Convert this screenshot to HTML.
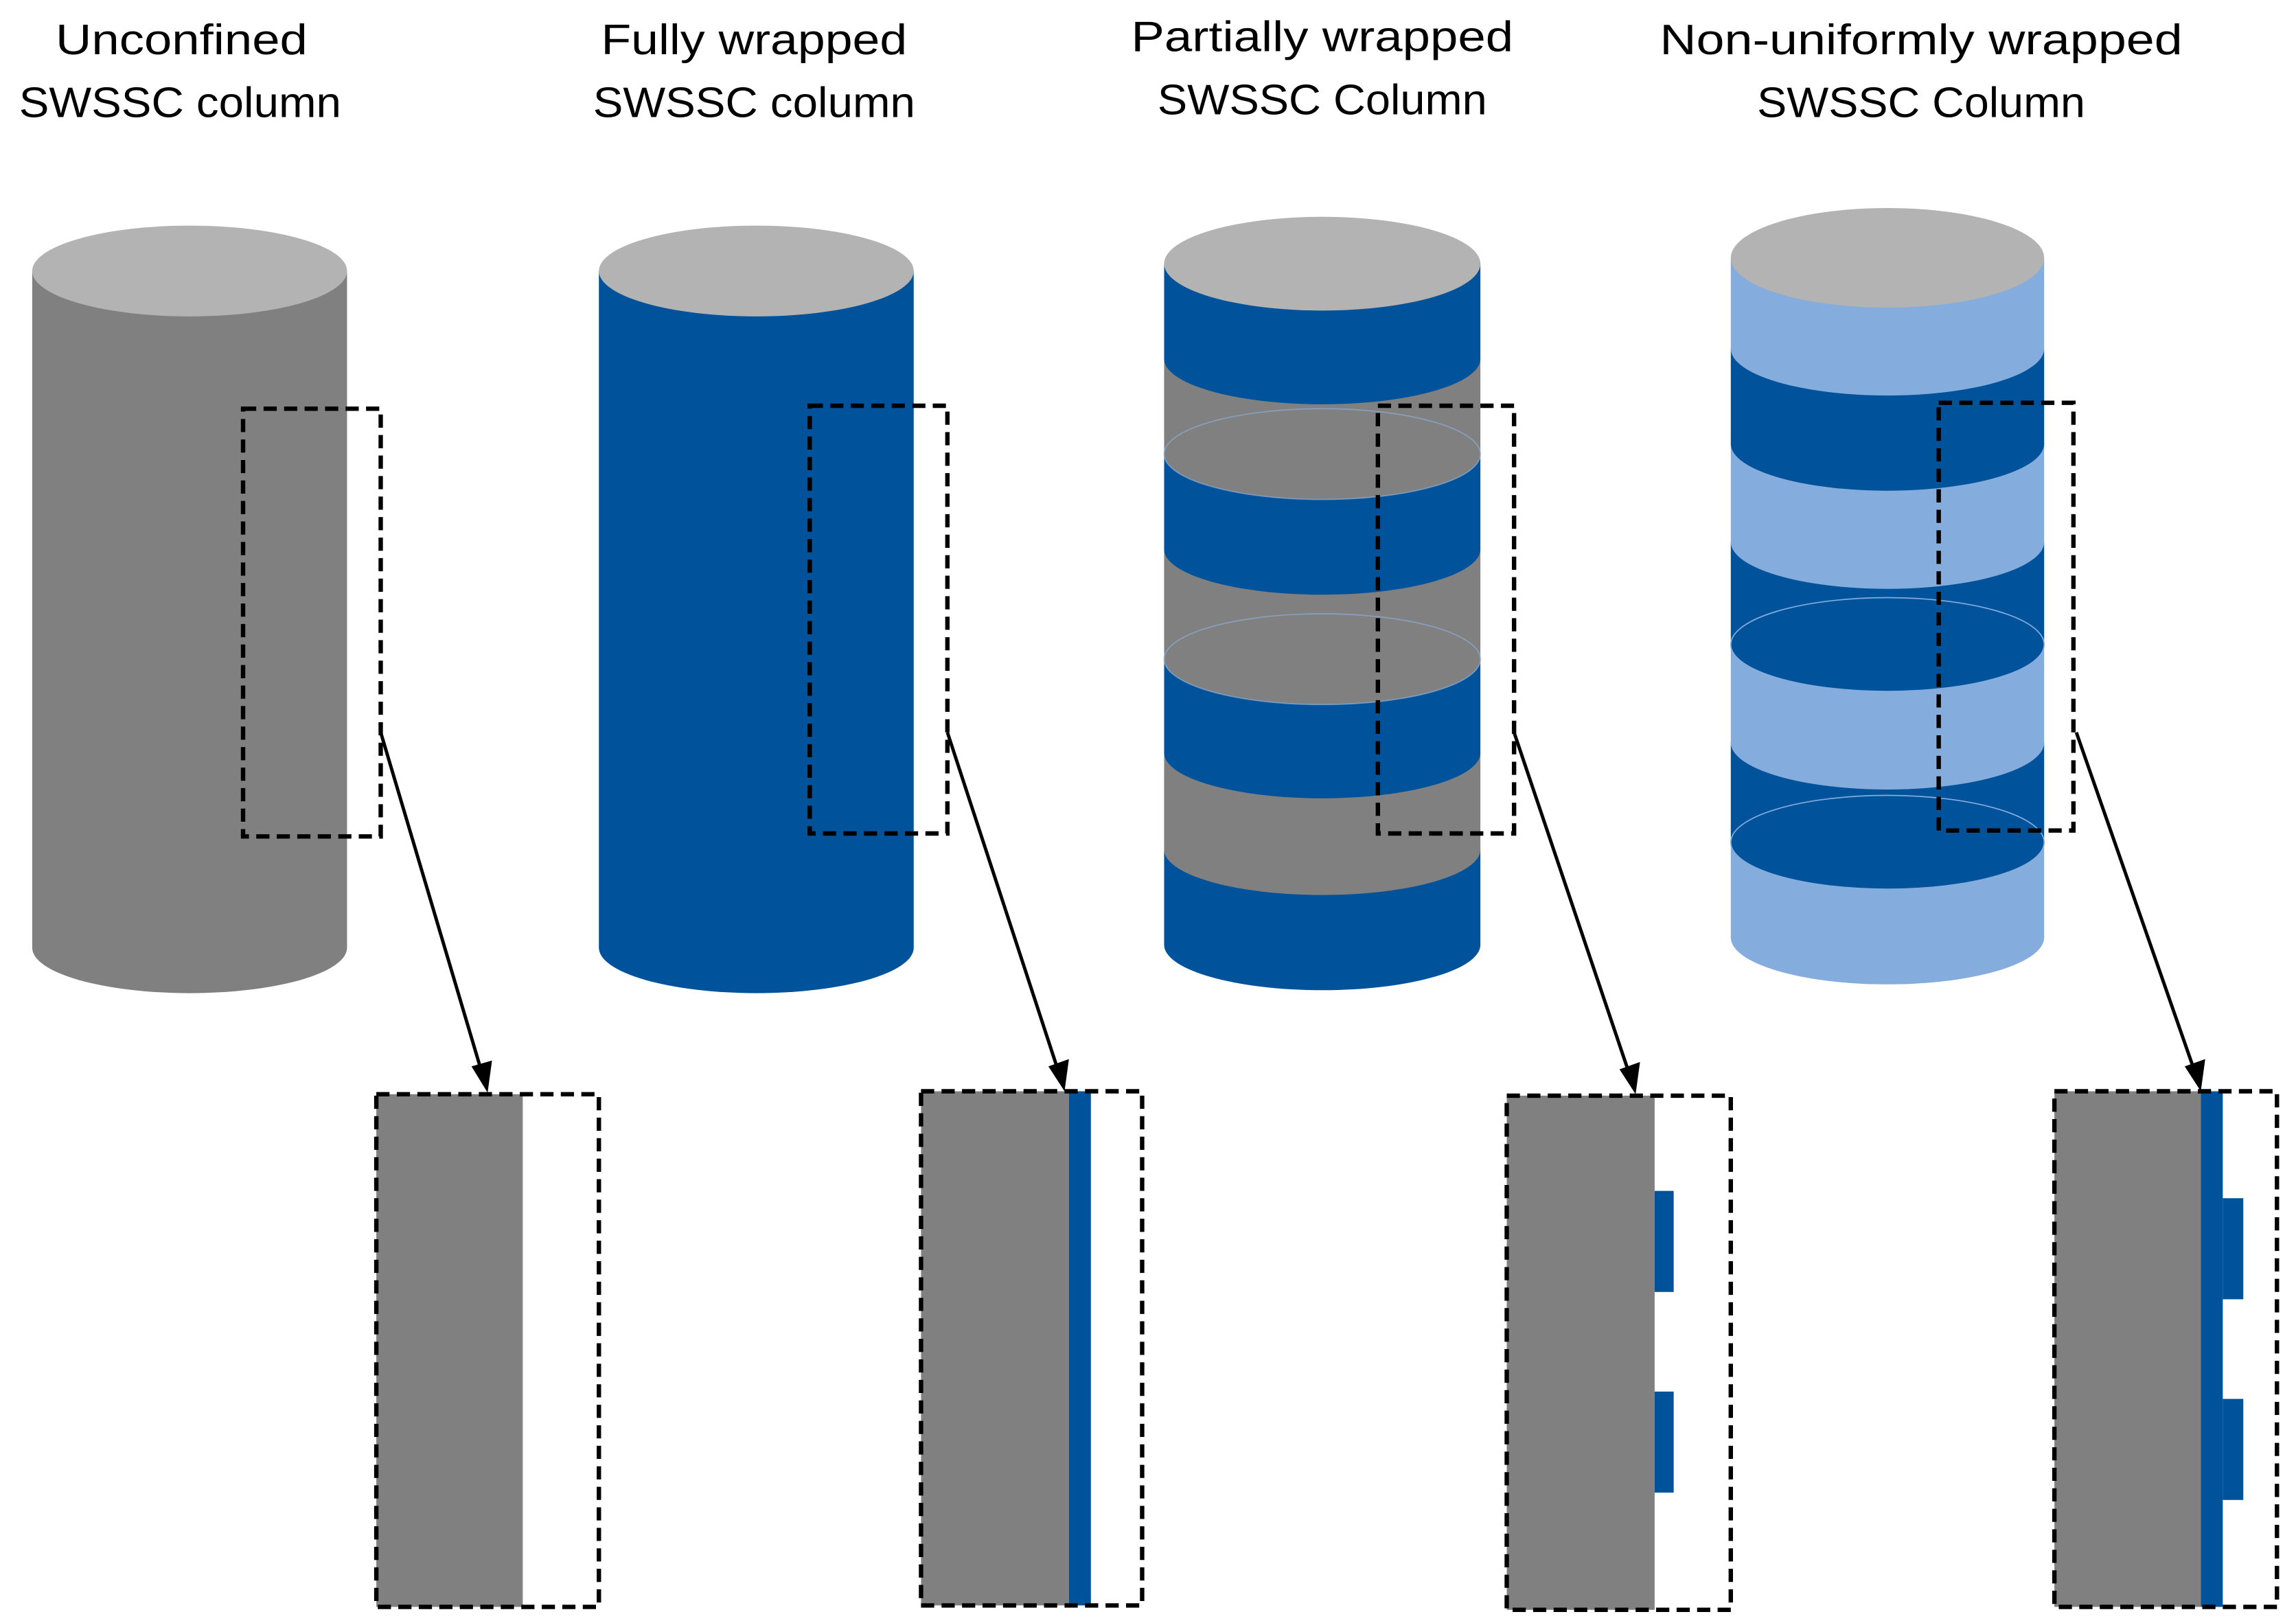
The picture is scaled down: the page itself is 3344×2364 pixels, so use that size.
<!DOCTYPE html>
<html><head><meta charset="utf-8"><style>html,body{margin:0;padding:0;background:#fff}svg{display:block}</style></head>
<body>
<svg width="3344" height="2364" viewBox="0 0 1568 1108" preserveAspectRatio="none" xmlns="http://www.w3.org/2000/svg">
<g font-family="'Liberation Sans', sans-serif" font-size="29" fill="#000" text-anchor="middle">
<text x="124" y="37" textLength="172" lengthAdjust="spacingAndGlyphs">Unconfined</text>
<text x="123" y="80" textLength="220" lengthAdjust="spacingAndGlyphs">SWSSC column</text>
<text x="515" y="37" textLength="209" lengthAdjust="spacingAndGlyphs">Fully wrapped</text>
<text x="515" y="80" textLength="220" lengthAdjust="spacingAndGlyphs">SWSSC column</text>
<text x="903" y="35" textLength="261" lengthAdjust="spacingAndGlyphs">Partially wrapped</text>
<text x="903" y="78" textLength="225" lengthAdjust="spacingAndGlyphs">SWSSC Column</text>
<text x="1312" y="37" textLength="357" lengthAdjust="spacingAndGlyphs">Non-uniformly wrapped</text>
<text x="1312" y="80" textLength="224" lengthAdjust="spacingAndGlyphs">SWSSC Column</text>
</g>

<!-- Col1 -->
<rect x="22" y="185" width="215" height="462" fill="#808080"/>
<ellipse cx="129.5" cy="647" rx="107.5" ry="31" fill="#808080"/>
<ellipse cx="129.5" cy="185" rx="107.5" ry="31" fill="#b3b3b3"/>

<!-- Col2 -->
<rect x="409" y="185" width="215" height="462" fill="#00539b"/>
<ellipse cx="516.5" cy="647" rx="107.5" ry="31" fill="#00539b"/>
<ellipse cx="516.5" cy="185" rx="107.5" ry="31" fill="#b3b3b3"/>

<!-- Col3 (bottom to top) -->
<g>
<rect x="795" y="580" width="216" height="65" fill="#00539b"/><ellipse cx="903" cy="645" rx="108" ry="31" fill="#00539b"/>
<rect x="795" y="514" width="216" height="66" fill="#808080"/><ellipse cx="903" cy="580" rx="108" ry="31" fill="#808080"/>
<rect x="795" y="450" width="216" height="64" fill="#00539b"/><ellipse cx="903" cy="514" rx="108" ry="31" fill="#00539b"/>
<rect x="795" y="375" width="216" height="75" fill="#808080"/><ellipse cx="903" cy="450" rx="108" ry="31" fill="#808080"/>
<ellipse cx="903" cy="450" rx="108" ry="31" fill="none" stroke="#8aaed8" stroke-width="0.8" opacity="0.7"/>
<rect x="795" y="310" width="216" height="65" fill="#00539b"/><ellipse cx="903" cy="375" rx="108" ry="31" fill="#00539b"/>
<rect x="795" y="245" width="216" height="65" fill="#808080"/><ellipse cx="903" cy="310" rx="108" ry="31" fill="#808080"/>
<ellipse cx="903" cy="310" rx="108" ry="31" fill="none" stroke="#8aaed8" stroke-width="0.8" opacity="0.7"/>
<rect x="795" y="180" width="216" height="65" fill="#00539b"/><ellipse cx="903" cy="245" rx="108" ry="31" fill="#00539b"/>
<ellipse cx="903" cy="180" rx="108" ry="32" fill="#b3b3b3"/>
</g>

<!-- Col4 -->
<g>
<rect x="1182" y="575" width="214" height="65" fill="#84acdc"/><ellipse cx="1289" cy="640" rx="107" ry="32" fill="#84acdc"/>
<rect x="1182" y="507" width="214" height="68" fill="#00539b"/><ellipse cx="1289" cy="575" rx="107" ry="32" fill="#00539b"/>
<ellipse cx="1289" cy="575" rx="107" ry="32" fill="none" stroke="#84acdc" stroke-width="0.8"/>
<rect x="1182" y="440" width="214" height="67" fill="#84acdc"/><ellipse cx="1289" cy="507" rx="107" ry="32" fill="#84acdc"/>
<rect x="1182" y="370" width="214" height="70" fill="#00539b"/><ellipse cx="1289" cy="440" rx="107" ry="32" fill="#00539b"/>
<ellipse cx="1289" cy="440" rx="107" ry="32" fill="none" stroke="#84acdc" stroke-width="0.8"/>
<rect x="1182" y="303" width="214" height="67" fill="#84acdc"/><ellipse cx="1289" cy="370" rx="107" ry="32" fill="#84acdc"/>
<rect x="1182" y="238" width="214" height="65" fill="#00539b"/><ellipse cx="1289" cy="303" rx="107" ry="32" fill="#00539b"/>
<rect x="1182" y="176" width="214" height="62" fill="#84acdc"/><ellipse cx="1289" cy="238" rx="107" ry="32" fill="#84acdc"/>
<ellipse cx="1289" cy="176" rx="107" ry="34" fill="#b3b3b3"/>
</g>

<!-- bottom detail fills -->
<rect x="257" y="747" width="100" height="350" fill="#808080"/>
<rect x="629" y="745" width="101" height="351" fill="#808080"/>
<rect x="730" y="745" width="15" height="351" fill="#00539b"/>
<rect x="1029" y="748" width="101" height="351" fill="#808080"/>
<rect x="1130" y="813" width="13" height="69" fill="#00539b"/>
<rect x="1130" y="950" width="13" height="69" fill="#00539b"/>
<rect x="1403" y="745" width="100" height="352" fill="#808080"/>
<rect x="1503" y="745" width="15" height="352" fill="#00539b"/>
<rect x="1518" y="818" width="14" height="69" fill="#00539b"/>
<rect x="1518" y="955" width="14" height="69" fill="#00539b"/>

<!-- dashed boxes -->
<g fill="none" stroke="#000" stroke-width="3" stroke-dasharray="9,5">
<rect x="166" y="279" width="94" height="292"/>
<rect x="553" y="277" width="94" height="292"/>
<rect x="941" y="277" width="93" height="292"/>
<rect x="1324" y="275" width="92" height="292"/>
<rect x="257" y="747" width="152" height="350"/>
<rect x="629" y="745" width="151" height="351"/>
<rect x="1029" y="748" width="153" height="351"/>
<rect x="1403" y="745" width="152" height="352"/>
</g>

<!-- arrows -->
<g stroke="#000" stroke-width="2.3">
<line x1="260" y1="500" x2="329" y2="732"/>
<line x1="647" y1="500" x2="723" y2="732"/>
<line x1="1034" y1="500" x2="1113" y2="734"/>
<line x1="1418" y1="500" x2="1499" y2="732"/>
</g>
<g fill="#000">
<polygon points="333,746 322,728 336,724"/>
<polygon points="727,745 716,728 730,723"/>
<polygon points="1117,747 1106,730 1120,725"/>
<polygon points="1503,745 1492,728 1506,723"/>
</g>
</svg>
</body></html>
